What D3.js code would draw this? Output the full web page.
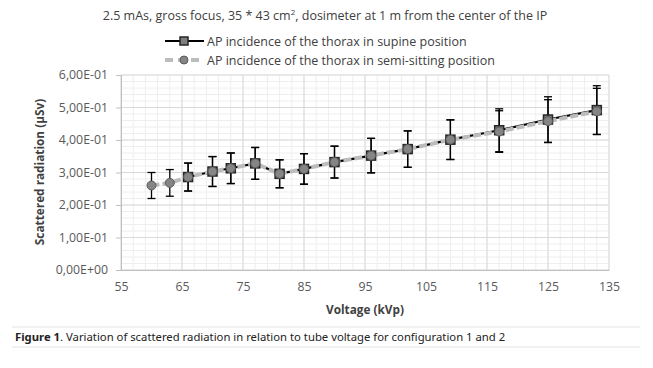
<!DOCTYPE html>
<html>
<head>
<meta charset="utf-8">
<script src="https://cdn.jsdelivr.net/npm/d3@7"></script>
<style>
  body { margin: 0; background: #fff; }
  svg { display: block; }
  .tick text { font-family: "Open Sans", sans-serif; font-size: 12.3px; fill: #595959; }
</style>
</head>
<body>
<svg id="chart" width="653" height="368"></svg>
<script>
// data
var voltage = [60, 63, 66, 70, 73, 77, 81, 85, 90, 96, 102, 109, 117, 125, 133];
var supine = [null, null, 0.286, 0.303, 0.313, 0.328, 0.296, 0.311, 0.332, 0.352, 0.372, 0.401, 0.430, 0.463, 0.492];
var semiSitting = [0.260, 0.268, 0.286, 0.303, 0.313, 0.328, 0.296, 0.311, 0.332, 0.352, 0.372, 0.401, 0.426, 0.458, 0.488];
var supineErr = [null, null, 0.043, 0.046, 0.047, 0.049, 0.043, 0.047, 0.049, 0.053, 0.056, 0.061, 0.066, 0.070, 0.075];
var semiErr = [0.040, 0.041, 0.043, 0.046, 0.047, 0.049, 0.043, 0.047, 0.049, 0.053, 0.056, 0.061, 0.064, 0.066, 0.071];
var xTicks = [55, 65, 75, 85, 95, 105, 115, 125, 135];
var yTicks = [0, 0.1, 0.2, 0.3, 0.4, 0.5, 0.6];
var seriesNames = ['AP incidence of the thorax in supine position', 'AP incidence of the thorax in semi-sitting position'];

var svg = d3.select('#chart');
var plot = { left: 121, right: 609, top: 75, bottom: 270 };

var x = d3.scaleLinear().domain([55, 135]).range([plot.left, plot.right]);
var y = d3.scaleLinear().domain([0, 0.6]).range([plot.bottom, plot.top]);

function sci(v) {
  if (Math.abs(v) < 1e-12) return '0,00E+00';
  var e = Math.floor(Math.log10(v) + 1e-9);
  var m = v / Math.pow(10, e);
  var s = e < 0 ? '-' : '+';
  var a = Math.abs(e);
  return m.toFixed(2).replace('.', ',') + 'E' + s + (a < 10 ? '0' : '') + a;
}

/* grid */
var grid = svg.append('g');
d3.range(55, 135.1, 2).forEach(function (v) {
  grid.append('line').attr('x1', x(v)).attr('x2', x(v)).attr('y1', plot.top).attr('y2', plot.bottom)
    .attr('stroke', '#eeeeee').attr('stroke-width', 1);
});
d3.range(0, 0.601, 0.02).forEach(function (v) {
  grid.append('line').attr('x1', plot.left).attr('x2', plot.right).attr('y1', y(v)).attr('y2', y(v))
    .attr('stroke', '#eeeeee').attr('stroke-width', 1);
});
xTicks.forEach(function (v) {
  grid.append('line').attr('x1', x(v)).attr('x2', x(v)).attr('y1', plot.top).attr('y2', plot.bottom)
    .attr('stroke', '#d9d9d9').attr('stroke-width', 1);
});
yTicks.forEach(function (v) {
  grid.append('line').attr('x1', plot.left).attr('x2', plot.right).attr('y1', y(v)).attr('y2', y(v))
    .attr('stroke', '#d9d9d9').attr('stroke-width', 1);
});

/* axes */
var yAxis = svg.append('g').attr('transform', 'translate(' + plot.left + ',0)')
  .call(d3.axisLeft(y).tickValues(yTicks).tickFormat(sci).tickSize(5).tickPadding(8));
yAxis.select('.domain').attr('stroke', '#bfbfbf');
yAxis.selectAll('.tick line').attr('stroke', '#bfbfbf');

var xAxis = svg.append('g').attr('transform', 'translate(0,' + plot.bottom + ')')
  .call(d3.axisBottom(x).tickValues(xTicks).tickSize(0).tickPadding(12));
xAxis.select('.domain').attr('stroke', '#bfbfbf');

/* series */
var supData = voltage.map(function (v, i) { return { x: v, y: supine[i], e: supineErr[i] }; })
  .filter(function (d) { return d.y !== null; });
var semiData = voltage.map(function (v, i) { return { x: v, y: semiSitting[i], e: semiErr[i] }; });

var line = d3.line().x(function (d) { return x(d.x); }).y(function (d) { return y(d.y); });

svg.append('path').datum(supData).attr('d', line)
  .attr('fill', 'none').attr('stroke', '#000').attr('stroke-width', 2.2);
svg.append('path').datum(semiData).attr('d', line)
  .attr('fill', 'none').attr('stroke', '#bcbcbc').attr('stroke-width', 4)
  .attr('stroke-dasharray', '8,3');

function errorBars(data) {
  var g = svg.append('g').attr('stroke', '#000').attr('stroke-width', 1.3);
  data.forEach(function (d) {
    g.append('line').attr('x1', x(d.x)).attr('x2', x(d.x)).attr('y1', y(d.y + d.e)).attr('y2', y(d.y - d.e));
    [d.y + d.e, d.y - d.e].forEach(function (v) {
      g.append('line').attr('x1', x(d.x) - 4).attr('x2', x(d.x) + 4).attr('y1', y(v)).attr('y2', y(v));
    });
  });
}
errorBars(supData);
errorBars(semiData);

svg.append('g').selectAll('rect').data(supData).enter().append('rect')
  .attr('x', function (d) { return x(d.x) - 4.5; })
  .attr('y', function (d) { return y(d.y) - 4.5; })
  .attr('width', 9).attr('height', 9)
  .attr('fill', '#7f7f7f').attr('stroke', '#262626').attr('stroke-width', 1.5);

svg.append('g').selectAll('circle').data(semiData).enter().append('circle')
  .attr('cx', function (d) { return x(d.x); })
  .attr('cy', function (d) { return y(d.y); })
  .attr('r', 4.5)
  .attr('fill', '#858585').attr('stroke', '#5a5a5a').attr('stroke-width', 1);

/* title and legend */
var font = '"Open Sans", sans-serif';
var title = svg.append('text').attr('x', 325).attr('y', 20).attr('text-anchor', 'middle')
  .attr('font-family', font).attr('font-size', 12.5).attr('fill', '#404040');
title.append('tspan').text('2.5 mAs, gross focus, 35 * 43 cm');
title.append('tspan').attr('dy', -5).attr('font-size', 8).text('2');
title.append('tspan').attr('dy', 5).text(', dosimeter at 1 m from the center of the IP');

var leg = svg.append('g');
leg.append('line').attr('x1', 165).attr('x2', 204).attr('y1', 41).attr('y2', 41)
  .attr('stroke', '#000').attr('stroke-width', 2.2);
leg.append('rect').attr('x', 180).attr('y', 37).attr('width', 8).attr('height', 8)
  .attr('fill', '#7f7f7f').attr('stroke', '#262626').attr('stroke-width', 1.5);
leg.append('line').attr('x1', 165).attr('x2', 204).attr('y1', 60).attr('y2', 60)
  .attr('stroke', '#bcbcbc').attr('stroke-width', 4).attr('stroke-dasharray', '8,5');
leg.append('circle').attr('cx', 184).attr('cy', 60).attr('r', 4)
  .attr('fill', '#858585').attr('stroke', '#5a5a5a');
seriesNames.forEach(function (n, i) {
  leg.append('text').attr('x', 207).attr('y', 46 + i * 19)
    .attr('font-family', font).attr('font-size', 12.5).attr('fill', '#404040').text(n);
});

/* axis titles */
svg.append('text').attr('transform', 'translate(44,172) rotate(-90)').attr('text-anchor', 'middle')
  .attr('font-family', font).attr('font-size', 11.8).attr('font-weight', 'bold').attr('fill', '#404040')
  .text('Scattered radiation (µSv)');
svg.append('text').attr('x', 365).attr('y', 314).attr('text-anchor', 'middle')
  .attr('font-family', font).attr('font-size', 11.8).attr('font-weight', 'bold').attr('fill', '#404040')
  .text('Voltage (kVp)');

/* caption */
svg.append('line').attr('x1', 12).attr('x2', 640).attr('y1', 327).attr('y2', 327).attr('stroke', '#e3e3e3');
svg.append('line').attr('x1', 12).attr('x2', 640).attr('y1', 347).attr('y2', 347).attr('stroke', '#e3e3e3');
var cap = svg.append('text').attr('x', 15).attr('y', 341)
  .attr('font-family', '"Noto Sans", sans-serif').attr('font-size', 11.3).attr('fill', '#222');
cap.append('tspan').attr('font-weight', 'bold').text('Figure 1');
cap.append('tspan').text('. Variation of scattered radiation in relation to tube voltage for configuration 1 and 2');
</script>
</body>
</html>
